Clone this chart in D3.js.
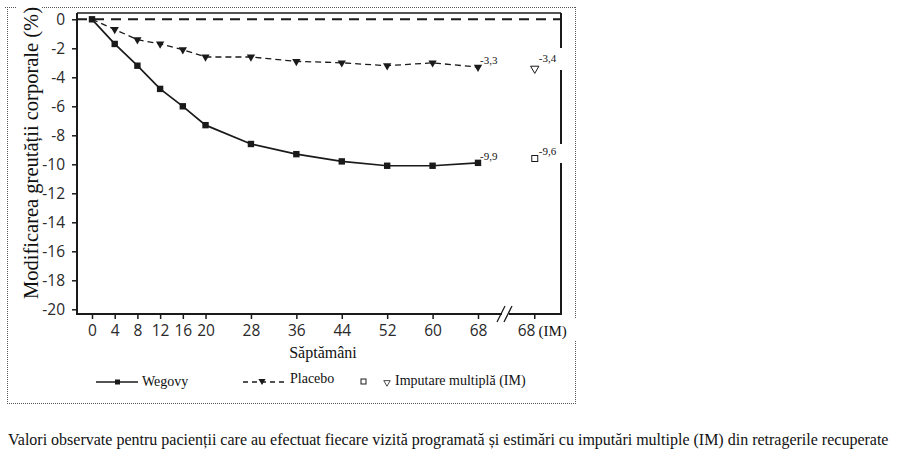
<!DOCTYPE html>
<html>
<head>
<meta charset="utf-8">
<script src="https://cdn.jsdelivr.net/npm/d3@7"></script>
<style>
  body { margin: 0; background: #fff; }
  svg { display: block; }
</style>
</head>
<body>
<svg id="chart" width="901" height="458"></svg>
<script>
// weeks of the scheduled visits
var weeks = [0, 4, 8, 12, 16, 20, 28, 36, 44, 52, 60, 68];
var wegovy = [0, -1.7, -3.2, -4.8, -6.0, -7.3, -8.6, -9.3, -9.8, -10.1, -10.1, -9.9];
var placebo = [0, -0.7, -1.4, -1.7, -2.1, -2.6, -2.6, -2.9, -3.0, -3.2, -3.0, -3.3];

// multiple imputation at week 68, drawn after the axis break
var imWeek = 78;
var imWegovy = -9.6;
var imPlacebo = -3.4;
var endLabels = ["-9,9", "-3,3"];
var imLabels = ["-9,6", "-3,4"];

var yTicks = [0, -2, -4, -6, -8, -10, -12, -14, -16, -18, -20];

var SANS = '"Open Sans", sans-serif';
var SERIF = '"Liberation Serif", "Times New Roman", serif';
var ink = '#1a1a1a';

var svg = d3.select('#chart');

var x = d3.scaleLinear().domain([0, 68]).range([92, 478]);
var y = d3.scaleLinear().domain([0, -20]).range([19.3, 309.3]);

var plotLeft = 77, plotRight = 561, plotTop = 13, plotBottom = 314;

function serifText(sel, size) {
  return sel.append('text')
    .style('font-family', SERIF)
    .style('font-size', size + 'px')
    .attr('fill', '#111');
}

// dotted outer frame
var frame = svg.append('g')
  .attr('fill', 'none')
  .attr('stroke', '#555')
  .attr('stroke-width', 1)
  .attr('stroke-dasharray', '1,1');
frame.append('line').attr('x1', 5).attr('x2', 16).attr('y1', 7.5).attr('y2', 7.5);
frame.append('line').attr('x1', 42).attr('x2', 576).attr('y1', 7.5).attr('y2', 7.5);
frame.append('line').attr('x1', 7.5).attr('x2', 7.5).attr('y1', 7).attr('y2', 404);
frame.append('line').attr('x1', 7).attr('x2', 576).attr('y1', 403.5).attr('y2', 403.5);
frame.append('line').attr('x1', 575.5).attr('x2', 575.5).attr('y1', 7).attr('y2', 318);
frame.append('line').attr('x1', 575.5).attr('x2', 575.5).attr('y1', 341).attr('y2', 404);

// plot box
var box = svg.append('g').attr('stroke', ink).attr('fill', 'none');
box.append('line').attr('x1', plotLeft).attr('x2', plotRight).attr('y1', plotTop).attr('y2', plotTop).attr('stroke-width', 1.5);
box.append('line').attr('x1', plotRight).attr('x2', plotRight).attr('y1', plotTop).attr('y2', 48).attr('stroke-width', 2);
box.append('line').attr('x1', plotRight).attr('x2', plotRight).attr('y1', 70).attr('y2', 144).attr('stroke-width', 2);
box.append('line').attr('x1', plotRight).attr('x2', plotRight).attr('y1', 163).attr('y2', plotBottom + 1).attr('stroke-width', 2);

// y axis
var yAxis = d3.axisLeft(y).tickValues(yTicks).tickSize(5).tickPadding(7);
var gy = svg.append('g').attr('transform', 'translate(' + plotLeft + ',0)').call(yAxis);
gy.select('.domain').attr('d', 'M0,' + plotTop + 'V' + plotBottom).attr('stroke', ink).attr('stroke-width', 2);
gy.selectAll('.tick line').attr('stroke', ink).attr('stroke-width', 1.5);
gy.selectAll('.tick text')
  .style('font-family', SANS).style('font-size', '15.5px').attr('fill', '#2a2a2a')
  .text(function(d) { return d === 0 ? '0' : '-' + Math.abs(d); });

// x axis with break
var xAxis = d3.axisBottom(x).tickValues(weeks).tickSize(5).tickPadding(4);
var gx = svg.append('g').attr('transform', 'translate(0,' + plotBottom + ')').call(xAxis);
gx.select('.domain').remove();
gx.selectAll('.tick line').attr('stroke', ink).attr('stroke-width', 1.5);
gx.selectAll('.tick text')
  .style('font-family', SANS).style('font-size', '15.5px').attr('fill', '#2a2a2a')
  .attr('dy', '0.83em');

var axisLine = svg.append('g').attr('stroke', ink).attr('stroke-width', 2);
axisLine.append('line').attr('x1', plotLeft - 1).attr('x2', 502).attr('y1', plotBottom).attr('y2', plotBottom);
axisLine.append('line').attr('x1', 509).attr('x2', plotRight + 1).attr('y1', plotBottom).attr('y2', plotBottom);
axisLine.append('line').attr('x1', 497).attr('y1', 322).attr('x2', 505).attr('y2', 306).attr('stroke-width', 1.3);
axisLine.append('line').attr('x1', 504).attr('y1', 322).attr('x2', 512).attr('y2', 306).attr('stroke-width', 1.3);
axisLine.append('line').attr('x1', x(imWeek)).attr('x2', x(imWeek)).attr('y1', plotBottom).attr('y2', plotBottom + 5).attr('stroke-width', 1.5);

var imTick = svg.append('text').attr('x', x(imWeek) - 17).attr('y', 335.5);
imTick.append('tspan').style('font-family', SANS).style('font-size', '15.5px').attr('fill', '#2a2a2a').text('68');
imTick.append('tspan').style('font-family', SERIF).style('font-size', '15px').attr('fill', '#111').attr('dx', 3).text('(IM)');

// zero reference
svg.append('line')
  .attr('x1', plotLeft).attr('x2', plotRight)
  .attr('y1', y(0)).attr('y2', y(0))
  .attr('stroke', ink).attr('stroke-width', 2)
  .attr('stroke-dasharray', '10,7');

var line = d3.line().x(function(d) { return x(d[0]); }).y(function(d) { return y(d[1]); });
var wegovyPts = d3.zip(weeks, wegovy);
var placeboPts = d3.zip(weeks, placebo);

svg.append('path').datum(placeboPts).attr('d', line)
  .attr('fill', 'none').attr('stroke', ink).attr('stroke-width', 1.3).attr('stroke-dasharray', '6,4');
svg.append('path').datum(wegovyPts).attr('d', line)
  .attr('fill', 'none').attr('stroke', ink).attr('stroke-width', 1.7);

var tri = d3.symbol().type(d3.symbolTriangle).size(30);
svg.selectAll('.ptri').data(placeboPts.slice(1)).enter().append('path')
  .attr('d', tri)
  .attr('transform', function(d) { return 'translate(' + x(d[0]) + ',' + y(d[1]) + ') rotate(180)'; })
  .attr('fill', ink);

svg.selectAll('.wsq').data(wegovyPts).enter().append('rect')
  .attr('x', function(d) { return x(d[0]) - 3.2; })
  .attr('y', function(d) { return y(d[1]) - 3.2; })
  .attr('width', 6.4).attr('height', 6.4)
  .attr('fill', ink);

// imputation markers
svg.append('rect').attr('x', x(imWeek) - 3).attr('y', y(imWegovy) - 3).attr('width', 6).attr('height', 6)
  .attr('fill', '#fff').attr('stroke', ink).attr('stroke-width', 1);
svg.append('path').attr('d', tri)
  .attr('transform', 'translate(' + x(imWeek) + ',' + y(imPlacebo) + ') rotate(180)')
  .attr('fill', '#fff').attr('stroke', ink).attr('stroke-width', 1);

// value labels
var lastW = weeks[weeks.length - 1];
serifText(svg, 11).attr('x', x(lastW) + 2).attr('y', y(wegovy[wegovy.length - 1]) - 3).text(endLabels[0]);
serifText(svg, 11).attr('x', x(lastW) + 2).attr('y', y(placebo[placebo.length - 1]) - 3).text(endLabels[1]);
serifText(svg, 11).attr('x', x(imWeek) + 4).attr('y', y(imWegovy) - 4).text(imLabels[0]);
serifText(svg, 11).attr('x', x(imWeek) + 4).attr('y', y(imPlacebo) - 7).text(imLabels[1]);

// axis titles
serifText(svg, 20.5)
  .attr('text-anchor', 'middle')
  .attr('transform', 'translate(38,153) rotate(-90)')
  .text('Modificarea greutății corporale (%)');
serifText(svg, 16)
  .attr('text-anchor', 'middle')
  .attr('x', 323).attr('y', 358)
  .text('Săptămâni');

// legend
var lg = svg.append('g');
var ly = 382;
lg.append('line').attr('x1', 96).attr('x2', 138).attr('y1', ly).attr('y2', ly).attr('stroke', ink).attr('stroke-width', 1.5);
lg.append('rect').attr('x', 115).attr('y', ly - 2.5).attr('width', 5).attr('height', 5).attr('fill', ink);
serifText(lg, 14).attr('x', 142).attr('y', ly + 4).text('Wegovy');

lg.append('line').attr('x1', 243).attr('x2', 287).attr('y1', ly).attr('y2', ly).attr('stroke', ink).attr('stroke-width', 1.5).attr('stroke-dasharray', '5,4');
lg.append('path').attr('d', d3.symbol().type(d3.symbolTriangle).size(22))
  .attr('transform', 'translate(262,' + (ly - 1) + ') rotate(180)').attr('fill', ink);
serifText(lg, 14).attr('x', 290).attr('y', ly + 1).text('Placebo');

lg.append('rect').attr('x', 361).attr('y', ly - 3).attr('width', 5).attr('height', 5)
  .attr('fill', '#fff').attr('stroke', ink).attr('stroke-width', 1);
lg.append('path').attr('d', d3.symbol().type(d3.symbolTriangle).size(18))
  .attr('transform', 'translate(387,' + (ly + 0.5) + ') rotate(180)')
  .attr('fill', '#fff').attr('stroke', ink).attr('stroke-width', 0.8);
serifText(lg, 14).attr('x', 395).attr('y', ly + 3).text('Imputare multiplă (IM)');

// caption
serifText(svg, 16)
  .attr('x', 8).attr('y', 445)
  .text('Valori observate pentru pacienții care au efectuat fiecare vizită programată și estimări cu imputări multiple (IM) din retragerile recuperate');
</script>
</body>
</html>
